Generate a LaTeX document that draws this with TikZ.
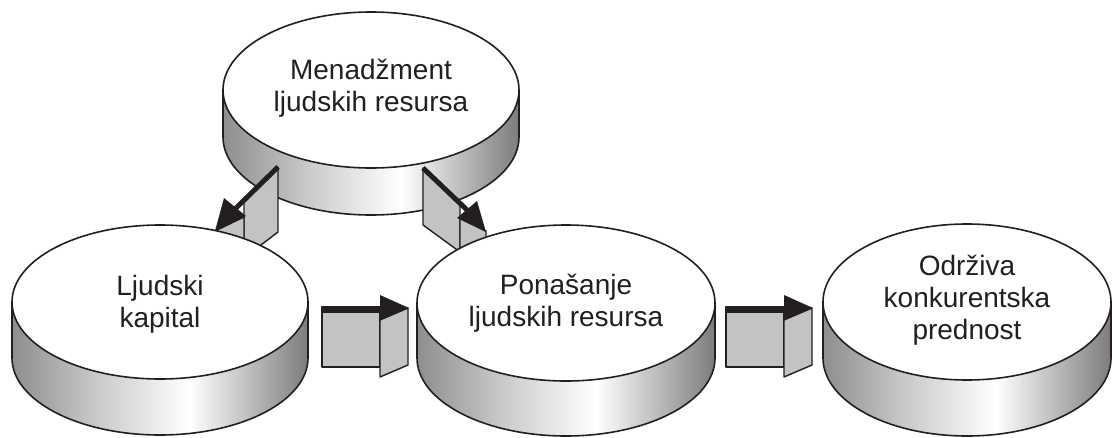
\documentclass[tikz,border=0pt]{standalone}
\usepackage{fontspec}
\setmainfont{Liberation Sans}
\definecolor{ink}{HTML}{231F20}
\definecolor{pgray}{HTML}{C3C3C3}
\definecolor{sideL}{HTML}{8E8E8E}
\definecolor{sideR}{HTML}{7C7C7C}
\pgfdeclarehorizontalshading{cylside}{100bp}{color(0bp)=(sideL); color(25bp)=(sideL); color(40bp)=(sideL!45!white); color(55bp)=(white); color(75bp)=(sideR); color(100bp)=(sideR)}
\newcommand\cylnd[8]{%
  \shade[shading=cylside] (#2-#4,#3) arc[start angle=180,end angle=360,x radius=#4pt,y radius=#5pt] -- ++(0,#6) arc[start angle=360,end angle=180,x radius=#4pt,y radius=#5pt] -- cycle;
  \draw[outl] (#2-#4,#3) -- ++(0,#6) arc[start angle=180,end angle=360,x radius=#4pt,y radius=#5pt] -- ++(0,-#6);
  \draw[outl,fill=white] (#2,#3) ellipse[x radius=#4pt,y radius=#5pt];
  \node[lbl] (#1) at (#2,#3+#8) {#7};
}
\begin{document}
\begin{tikzpicture}[x=1pt,y=-1pt,
  outl/.style={draw=ink,line width=1.6pt},
  panel/.style={fill=pgray,draw=ink,line width=1.4pt,line join=round},
  head/.style={fill=ink},
  shaft/.style={draw=ink,line width=5pt},
  lbl/.style={font=\fontsize{28}{32}\selectfont,align=center,text=ink,inner sep=0pt}]
\useasboundingbox (0,0) rectangle (1112,437);
% top cylinder
\cylnd{mlj}{371}{90}{148}{78}{47}{Menadžment\\ljudskih resursa}{-2}
% left diagonal arrow
\draw[panel] (278,167) -- (278,232) -- (244,258) -- (244,201) -- cycle;
\draw[panel] (244,217) -- (215,231) -- (215,250) -- (244,250) -- cycle;
\draw[shaft] (278,167) -- (235,209);
\fill[head] (224,198) -- (215,231) -- (246,216) -- cycle;
% right diagonal arrow
\draw[panel] (423,168) -- (423,225) -- (460,252) -- (460,203) -- cycle;
\draw[panel] (460,218) -- (486,231) -- (486,250) -- (460,258) -- cycle;
\draw[shaft] (423,168) -- (467,210);
\fill[head] (457,218) -- (477,201) -- (486,232) -- cycle;
% bottom cylinders
\cylnd{lk}{160}{302}{148}{77}{56}{Ljudski\\kapital}{2}
\cylnd{plr}{566}{303}{149}{78}{55}{Ponašanje\\ljudskih resursa}{0}
\cylnd{okp}{967}{302}{144}{78}{56}{Održiva\\konkurentska\\prednost}{-2}
% horizontal arrows
\foreach \dx in {0,404}{
\begin{scope}[xshift=\dx pt]
\draw[panel] (322,307) rectangle (380,367);
\fill[ink] (322,306) rectangle (380,313);
\draw[panel] (380,320) -- (408,308) -- (408,365) -- (380,377) -- cycle;
\fill[head] (380,295) -- (409,308) -- (380,320) -- cycle;
\end{scope}}
\end{tikzpicture}
\end{document}
